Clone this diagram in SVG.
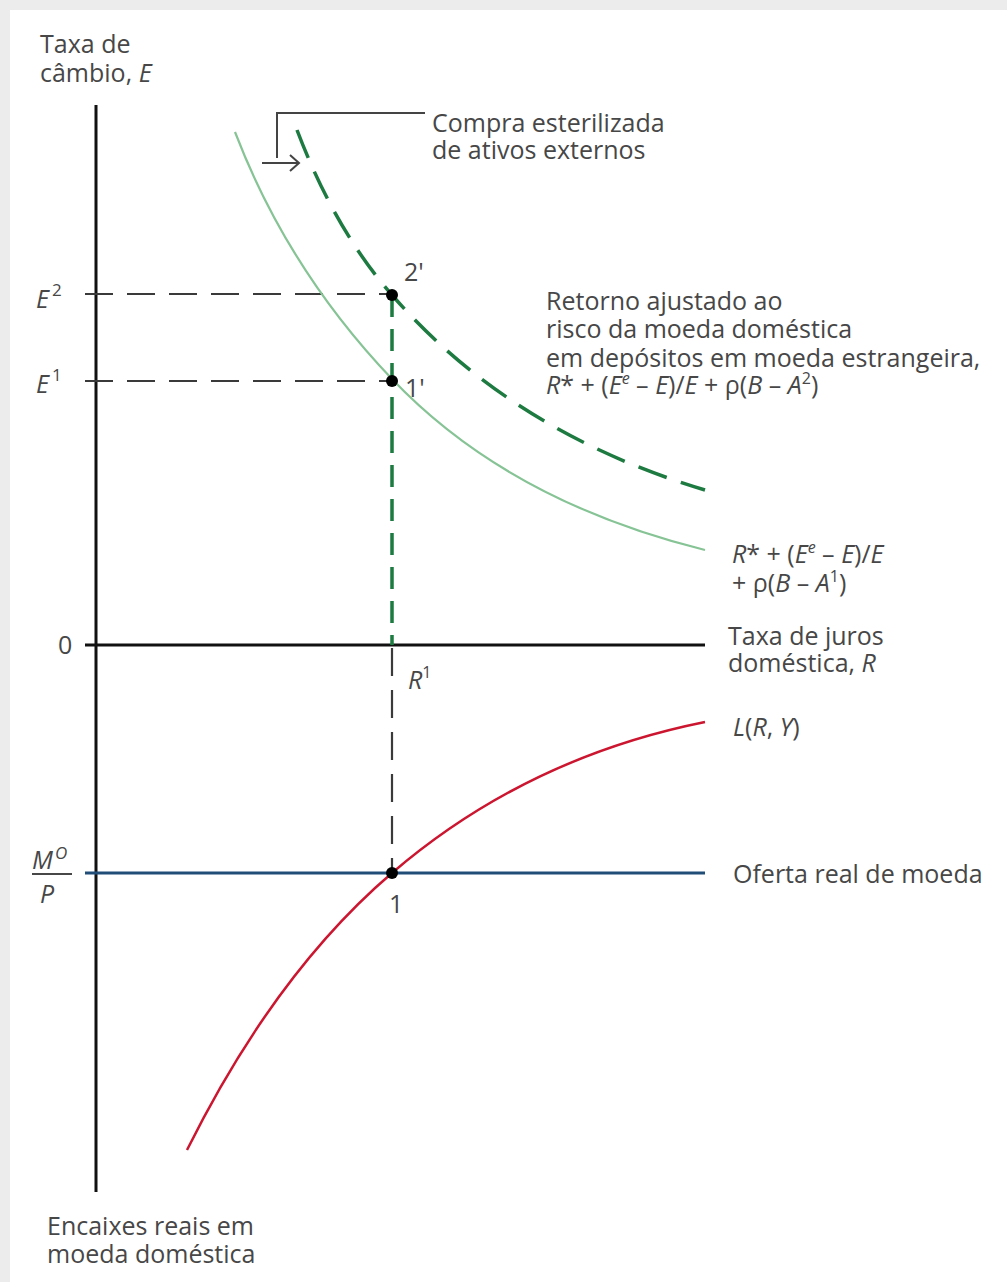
<svg xmlns="http://www.w3.org/2000/svg" width="1007" height="1282" viewBox="0 0 1007 1282">
<style>
.t{font-family:"Open Sans","Noto Sans",sans-serif;font-size:25px;fill:#474747}
.i{font-style:italic}
.ax{stroke:#111;stroke-width:3;fill:none}
.dk{stroke:#3a3a3a;stroke-width:2.2;stroke-dasharray:28 14;fill:none}
.dg{stroke:#1d7a40;stroke-width:3.5;stroke-dasharray:22 12;fill:none}
.dot{fill:#000}
</style>
<rect x="0" y="0" width="1007" height="1282" fill="#ececec"/>
<rect x="10" y="10" width="997" height="1272" fill="#ffffff"/>
<g id="connectors">
<line class="ax" x1="96" y1="105" x2="96" y2="1192"/>
<line class="ax" x1="85" y1="645" x2="705" y2="645"/>
<line x1="85" y1="873" x2="705" y2="873" stroke="#1f4d78" stroke-width="3"/>
<line class="dk" x1="85" y1="294" x2="392" y2="294"/>
<line class="dk" x1="85" y1="381" x2="392" y2="381"/>
<line class="dg" x1="392" y1="295" x2="392" y2="645"/>
<line class="dk" x1="392" y1="648" x2="392" y2="873"/>
<path d="M235,132 Q288,270 392,379 Q508,501 705,550" stroke="#86c395" stroke-width="2.2" fill="none"/>
<path d="M297,130 Q335,230 392,295 Q511,432 705,490" stroke="#1d7a40" stroke-width="3.5" stroke-dasharray="30 15" fill="none"/>
<path d="M187,1150 Q275,973 392,873 Q526,758 705,722" stroke="#cc1630" stroke-width="2.5" fill="none"/>
<path d="M425,113 H277 V158" stroke="#444" stroke-width="2" fill="none"/>
<path d="M262,163 H298 M290,155 L299,163 L290,171" stroke="#444" stroke-width="2" fill="none"/>
</g>
<g id="point-2p"><circle class="dot" cx="392" cy="295" r="6"/><text class="t" x="404" y="281">2'</text></g>
<g id="point-1p"><circle class="dot" cx="392" cy="381" r="6"/><text class="t" x="405" y="397">1'</text></g>
<g id="point-1"><circle class="dot" cx="392" cy="873" r="6"/><text class="t" x="389" y="913">1</text></g>
<g id="label-yaxis"><text class="t" x="40" y="53">Taxa de</text><text class="t" x="40" y="82">câmbio, <tspan class="i">E</tspan></text></g>
<g id="label-compra"><text class="t" x="432" y="132">Compra esterilizada</text><text class="t" x="432" y="159">de ativos externos</text></g>
<g id="label-E2"><text class="t i" x="36" y="308">E<tspan font-size="17" dy="-12" dx="3" font-style="normal">2</tspan></text></g>
<g id="label-E1"><text class="t i" x="36" y="393">E<tspan font-size="17" dy="-12" dx="3" font-style="normal">1</tspan></text></g>
<g id="label-retorno">
<text class="t" x="546" y="310">Retorno ajustado ao</text>
<text class="t" x="546" y="338">risco da moeda doméstica</text>
<text class="t" x="546" y="367">em depósitos em moeda estrangeira,</text>
<text class="t" x="546" y="394"><tspan class="i">R</tspan>* + (<tspan class="i">E</tspan><tspan class="i" font-size="16" dy="-10">e</tspan><tspan dy="10"> – </tspan><tspan class="i">E</tspan>)/<tspan class="i">E</tspan> + ρ(<tspan class="i">B</tspan> – <tspan class="i">A</tspan><tspan font-size="16" dy="-10">2</tspan><tspan dy="10">)</tspan></text>
</g>
<g id="label-curve1">
<text class="t" x="732" y="563"><tspan class="i">R</tspan>* + (<tspan class="i">E</tspan><tspan class="i" font-size="16" dy="-10">e</tspan><tspan dy="10"> – </tspan><tspan class="i">E</tspan>)/<tspan class="i">E</tspan></text>
<text class="t" x="732" y="592">+ ρ(<tspan class="i">B</tspan> – <tspan class="i">A</tspan><tspan font-size="16" dy="-10">1</tspan><tspan dy="10">)</tspan></text>
</g>
<g id="label-xaxis"><text class="t" x="728" y="645">Taxa de juros</text><text class="t" x="728" y="672">doméstica, <tspan class="i">R</tspan></text></g>
<g id="label-zero"><text class="t" x="58" y="654">0</text></g>
<g id="label-R1"><text class="t i" x="408" y="689">R<tspan font-size="16" dy="-11" font-style="normal">1</tspan></text></g>
<g id="label-L"><text class="t" x="733" y="736"><tspan class="i">L</tspan>(<tspan class="i">R</tspan>, <tspan class="i">Y</tspan>)</text></g>
<g id="label-oferta"><text class="t" x="733" y="883">Oferta real de moeda</text></g>
<g id="label-MP"><text class="t i" x="32" y="869" font-size="24">M<tspan font-size="17" dy="-10" dx="2">O</tspan></text><line x1="32" y1="874" x2="72" y2="874" stroke="#474747" stroke-width="1.8"/><text class="t i" x="40" y="903">P</text></g>
<g id="label-encaixes"><text class="t" x="47" y="1235">Encaixes reais em</text><text class="t" x="47" y="1263">moeda doméstica</text></g>
</svg>
